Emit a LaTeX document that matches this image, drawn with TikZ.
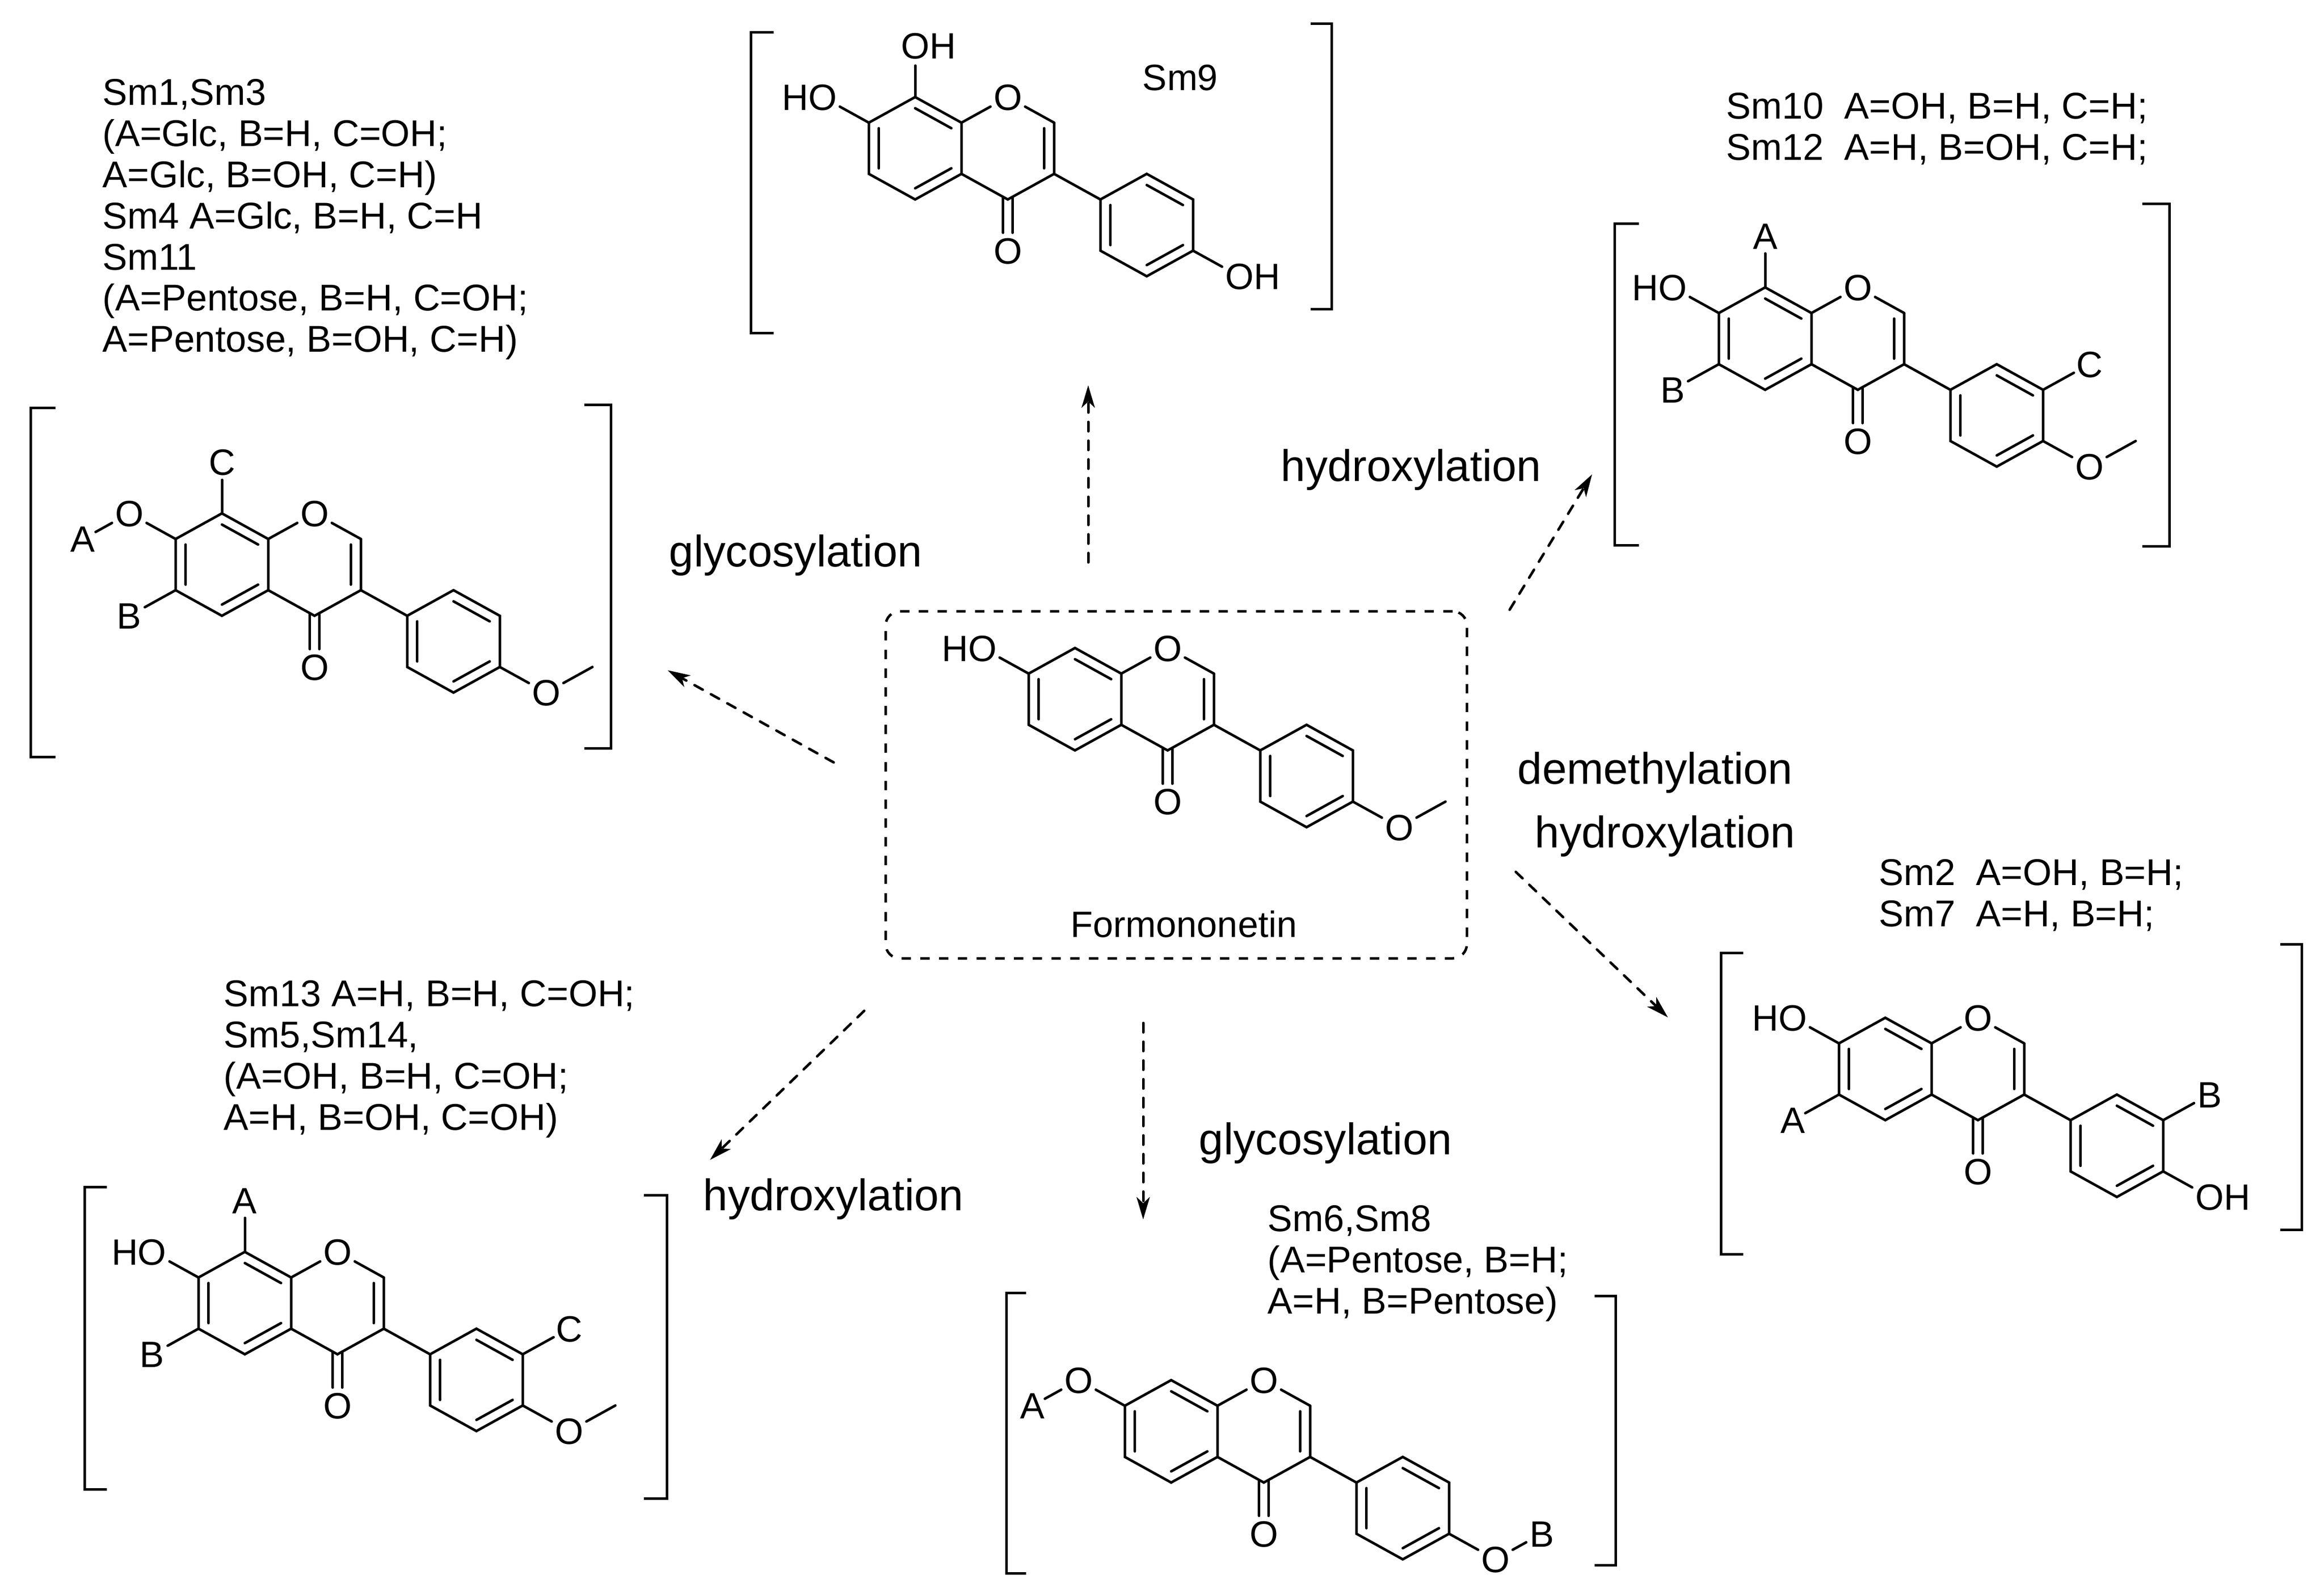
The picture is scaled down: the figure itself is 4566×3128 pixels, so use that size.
\documentclass[tikz,border=0pt]{standalone}
\usepackage{fontspec}
\setmainfont{Liberation Sans}
\usetikzlibrary{calc,arrows.meta}
\tikzset{
  bond/.style={line width=1.25pt,line cap=round,line join=miter},
  atom/.style={circle,inner sep=0pt,minimum size=19pt,text height=12.9pt,text depth=0pt,font=\fontsize{18}{20}\selectfont},
  atomC/.style={atom,minimum size=17pt},
  atomA/.style={rectangle,inner sep=0pt,minimum width=12pt,minimum height=16.5pt,text height=12.9pt,text depth=0pt,font=\fontsize{18}{20}\selectfont},
  bracket/.style={line width=1.25pt,line cap=butt,line join=miter},
  flow/.style={line width=1.25pt,dash pattern=on 4.6pt off 4.6pt,line cap=round,-{Stealth[length=11pt,width=6.5pt,inset=3pt]}},
  note/.style={anchor=north west,inner sep=0pt,align=left,font=\fontsize{18.3}{20.2}\selectfont},
  plain/.style={anchor=center,inner sep=0pt,text height=12.9pt,text depth=0pt,font=\fontsize{18}{20}\selectfont},
  step label/.style={anchor=base west,inner sep=0pt,font=\fontsize{21.7}{24}\selectfont}
}
% #1 prefix, #2 x, #3 y, #4 extra substituents (lattice coordinates)
\newcommand\isoflavone[4]{%
\begin{scope}[shift={(#2,#3)},x=22.75pt,y=12.575pt]
  \coordinate (#1a) at (0,0);
  \coordinate (#1b) at (0,-2);
  \coordinate (#1c) at (-1,-3);
  \coordinate (#1d) at (-2,-2);
  \coordinate (#1e) at (-2,0);
  \coordinate (#1f) at (-1,1);
  \coordinate (#1g) at (2,0);
  \coordinate (#1h) at (2,-2);
  \coordinate (#1i) at (1,-3);
  \coordinate (#1j) at (3,-3);
  \coordinate (#1k) at (4,-2);
  \coordinate (#1l) at (5,-3);
  \coordinate (#1m) at (5,-5);
  \coordinate (#1n) at (4,-6);
  \coordinate (#1o) at (3,-5);
  \coordinate (#1A) at (-1,-1);
  \coordinate (#1P) at (1,-1);
  \coordinate (#1R) at (4,-4);
  \node[atom] (#1ox) at (1,1) {\makebox[0pt]{O}};
  \node[atom] (#1ket) at (1,-5) {\makebox[0pt]{O}};
  \draw[bond] (#1a) -- (#1f) -- (#1e) -- (#1d) -- (#1c) -- (#1b) -- cycle;
  \draw[bond] (#1b) -- (#1i) -- (#1h) -- (#1g);
  \draw[bond] (#1a) -- (#1ox);
  \draw[bond] (#1ox) -- (#1g);
  \draw[bond] (#1h) -- (#1j);
  \draw[bond] (#1j) -- (#1k) -- (#1l) -- (#1m) -- (#1n) -- (#1o) -- cycle;
  \draw[bond] ($(#1f)!.218!(#1A)$) -- ($(#1a)!.218!(#1A)$);
  \draw[bond] ($(#1e)!.218!(#1A)$) -- ($(#1d)!.218!(#1A)$);
  \draw[bond] ($(#1c)!.218!(#1A)$) -- ($(#1b)!.218!(#1A)$);
  \draw[bond] ($(#1g)!.218!(#1P)$) -- ($(#1h)!.218!(#1P)$);
  \draw[bond] ($(#1k)!.218!(#1R)$) -- ($(#1l)!.218!(#1R)$);
  \draw[bond] ($(#1m)!.218!(#1R)$) -- ($(#1n)!.218!(#1R)$);
  \draw[bond] ($(#1o)!.218!(#1R)$) -- ($(#1j)!.218!(#1R)$);
  \draw[bond] ($(#1i)+(.1,.1)$) -- ($(#1ket)+(.1,.7)$);
  \draw[bond] ($(#1i)+(-.1,.1)$) -- ($(#1ket)+(-.1,.7)$);
  #4
\end{scope}}
\newcommand\brackets[8]{%
  \draw[bracket] (#4,#2) -- (#1,#2) -- (#1,#3) -- (#4,#3);
  \draw[bracket] (#8,#6) -- (#5,#6) -- (#5,#7) -- (#8,#7);}
\begin{document}
\begin{tikzpicture}[x=.25pt,y=-.25pt]
\useasboundingbox (0,0) rectangle (4566,3128);

% central box
\node[draw,line width=1.25pt,dash pattern=on 4.6pt off 4.6pt,rounded corners=7pt,
  minimum width=285.5pt,minimum height=170.5pt,inner sep=0pt] (box) at (2311,1542) {};
\isoflavone{f}{2203}{1323.5}{
  \node[atom] (fho) at (-3,1) {\makebox[0pt]{\llap{H}O}};
  \node[atom] (fom) at (6,-6) {\makebox[0pt]{O}};
  \coordinate (fme) at (7,-5);
  \draw[bond] (fe) -- (fho);
  \draw[bond] (fm) -- (fom);
  \draw[bond] (fom) -- (fme);
}
\node[plain] (fname) at (2326,1816) {Formononetin};

% left: Sm1...
\brackets{60}{801}{1487}{109}{1200}{795}{1470}{1148}
\isoflavone{l}{527}{1059}{
  \node[atom] (lor) at (-3,1) {\makebox[0pt]{O}};
  \node[atomA] (la) at (-4,0) {\makebox[0pt]{A}};
  \node[atomC] (lbb) at (-3,-3) {\makebox[0pt]{B}};
  \node[atomC] (lcc) at (-1,3) {\makebox[0pt]{C}};
  \node[atom] (lom) at (6,-6) {\makebox[0pt]{O}};
  \coordinate (lme) at (7,-5);
  \draw[bond] (le) -- (lor);
  \draw[bond] (lor) -- (la);
  \draw[bond] (ld) -- (lbb);
  \draw[bond] (lf) -- (lcc);
  \draw[bond] (lm) -- (lom);
  \draw[bond] (lom) -- (lme);
}
\node[note] (tl) at (201,155) {Sm1,Sm3\\(A=Glc, B=H, C=OH;\\A=Glc, B=OH, C=H)\\Sm4 A=Glc, B=H, C=H\\Sm11\\(A=Pentose, B=H, C=OH;\\A=Pentose, B=OH, C=H)};

% top: Sm9
\brackets{1475}{63}{654}{1520}{2616}{46}{607}{2575}
\isoflavone{t}{1889}{241}{
  \node[atom] (tho) at (-3,1) {\makebox[0pt]{\llap{H}O}};
  \node[atom] (toh) at (-1,3) {\makebox[0pt]{O\rlap{H}}};
  \node[atom] (tpo) at (6,-6) {\makebox[0pt]{O\rlap{H}}};
  \draw[bond] (te) -- (tho);
  \draw[bond] (tf) -- (toh);
  \draw[bond] (tm) -- (tpo);
}
\node[plain] (tsm) at (2319,152) {Sm9};

% right top: Sm10, Sm12
\brackets{3172}{439}{1071}{3220}{4262}{400}{1073}{4209}
\isoflavone{r}{3559}{615}{
  \node[atom] (rho) at (-3,1) {\makebox[0pt]{\llap{H}O}};
  \node[atomA] (raa) at (-1,3) {\makebox[0pt]{A}};
  \node[atomC] (rbb) at (-3,-3) {\makebox[0pt]{B}};
  \node[atomC] (rcc) at (6,-2) {\makebox[0pt]{C}};
  \node[atom] (rom) at (6,-6) {\makebox[0pt]{O}};
  \coordinate (rme) at (7,-5);
  \draw[bond] (re) -- (rho);
  \draw[bond] (rf) -- (raa);
  \draw[bond] (rd) -- (rbb);
  \draw[bond] (rl) -- (rcc);
  \draw[bond] (rm) -- (rom);
  \draw[bond] (rom) -- (rme);
}
\node[note] (tr) at (3391,182) {Sm10\ \ A=OH, B=H, C=H;\\Sm12\ \ A=H, B=OH, C=H;};

% right bottom: Sm2, Sm7
\brackets{3381}{1872}{2464}{3425}{4522}{1855}{2416}{4480}
\isoflavone{s}{3795}{2050}{
  \node[atom] (sho) at (-3,1) {\makebox[0pt]{\llap{H}O}};
  \node[atomA] (saa) at (-3,-3) {\makebox[0pt]{A}};
  \node[atomC] (sbb) at (6,-2) {\makebox[0pt]{B}};
  \node[atom] (soh) at (6,-6) {\makebox[0pt]{O\rlap{H}}};
  \draw[bond] (se) -- (sho);
  \draw[bond] (sd) -- (saa);
  \draw[bond] (sl) -- (sbb);
  \draw[bond] (sm) -- (soh);
}
\node[note] (ts) at (3691,1688) {Sm2\ \ A=OH, B=H;\\Sm7\ \ A=H, B=H;};

% bottom left: Sm13, Sm5, Sm14
\brackets{166}{2332}{2926}{210}{1310}{2348}{2944}{1265}
\isoflavone{b}{572}{2510}{
  \node[atom] (bho) at (-3,1) {\makebox[0pt]{\llap{H}O}};
  \node[atomA] (baa) at (-1,3) {\makebox[0pt]{A}};
  \node[atomC] (bbb) at (-3,-3) {\makebox[0pt]{B}};
  \node[atomC] (bcc) at (6,-2) {\makebox[0pt]{C}};
  \node[atom] (bom) at (6,-6) {\makebox[0pt]{O}};
  \coordinate (bme) at (7,-5);
  \draw[bond] (be) -- (bho);
  \draw[bond] (bf) -- (baa);
  \draw[bond] (bd) -- (bbb);
  \draw[bond] (bl) -- (bcc);
  \draw[bond] (bm) -- (bom);
  \draw[bond] (bom) -- (bme);
}
\node[note] (tb) at (439,1926) {Sm13 A=H, B=H, C=OH;\\Sm5,Sm14,\\(A=OH, B=H, C=OH;\\A=H, B=OH, C=OH)};

% bottom: Sm6, Sm8
\brackets{1977}{2540}{3091}{2016}{3174}{2546}{3075}{3133}
\isoflavone{u}{2392}{2762}{
  \node[atom] (uor) at (-3,1) {\makebox[0pt]{O}};
  \node[atomA] (uaa) at (-4,0) {\makebox[0pt]{A}};
  \node[atom] (uom) at (6,-6) {\makebox[0pt]{O}};
  \node[atomC] (ubb) at (7,-5) {\makebox[0pt]{B}};
  \draw[bond] (ue) -- (uor);
  \draw[bond] (uor) -- (uaa);
  \draw[bond] (um) -- (uom);
  \draw[bond] (uom) -- (ubb);
}
\node[note] (tu) at (2490,2368) {Sm6,Sm8\\(A=Pentose, B=H;\\A=H, B=Pentose)};

% reaction labels
\node[step label] (g1) at (1314,1113) {glycosylation};
\node[step label] (h1) at (2516,945) {hydroxylation};
\node[step label] (d1) at (2981,1540) {demethylation};
\node[step label] (h2) at (3015,1665) {hydroxylation};
\node[step label] (g2) at (2355,2268) {glycosylation};
\node[step label] (h3) at (1381,2378) {hydroxylation};

% arrows
\coordinate (a1s) at (2138,1105); \coordinate (a1e) at (2138,757);
\coordinate (a2s) at (2966,1198); \coordinate (a2e) at (3128,932);
\coordinate (a3s) at (1638,1498); \coordinate (a3e) at (1312,1317);
\coordinate (a4s) at (2978,1713); \coordinate (a4e) at (3277,1999);
\coordinate (a5s) at (1698,1986); \coordinate (a5e) at (1395,2279);
\coordinate (a6s) at (2246,2010); \coordinate (a6e) at (2246,2396);
\draw[flow] (a1s) -- (a1e);
\draw[flow] (a2s) -- (a2e);
\draw[flow] (a3s) -- (a3e);
\draw[flow] (a4s) -- (a4e);
\draw[flow] (a5s) -- (a5e);
\draw[flow] (a6s) -- (a6e);
\end{tikzpicture}
\end{document}
